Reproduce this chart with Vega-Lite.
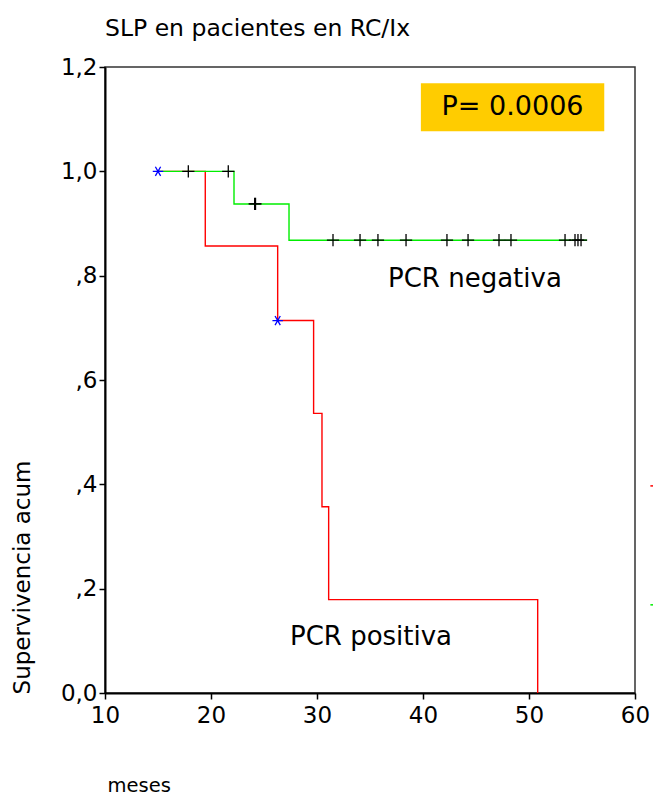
{
  "$schema": "https://vega.github.io/schema/vega-lite/v6.json",
  "width": 530,
  "height": 626,
  "autosize": {"type": "none"},
  "padding": {"left": 105, "top": 67, "right": 18, "bottom": 103},
  "background": "white",
  "config": {
    "font": "DejaVu Sans",
    "view": {"stroke": "#333333", "strokeWidth": 1.5},
    "axis": {
      "grid": false,
      "domainColor": "black",
      "domainWidth": 2,
      "tickColor": "black",
      "tickWidth": 1.5,
      "tickSize": 6,
      "labelFont": "DejaVu Sans",
      "labelFontSize": 23,
      "labelColor": "black",
      "labelFlush": false,
      "labelOverlap": false,
      "titleFont": "DejaVu Sans",
      "titleFontSize": 23,
      "titleFontWeight": "normal",
      "titleColor": "black"
    }
  },
  "title": {
    "text": "SLP en pacientes en RC/Ix",
    "anchor": "start",
    "frame": "group",
    "font": "DejaVu Sans",
    "fontSize": 23.5,
    "fontWeight": "normal",
    "color": "black",
    "offset": 16
  },
  "datasets": {
    "curves": [
      {"grupo": "PCR positiva", "meses": 15.0, "surv": 1.0},
      {"grupo": "PCR positiva", "meses": 19.46, "surv": 0.857},
      {"grupo": "PCR positiva", "meses": 26.29, "surv": 0.714},
      {"grupo": "PCR positiva", "meses": 29.68, "surv": 0.536},
      {"grupo": "PCR positiva", "meses": 30.47, "surv": 0.357},
      {"grupo": "PCR positiva", "meses": 31.1, "surv": 0.179},
      {"grupo": "PCR positiva", "meses": 50.82, "surv": 0.0},
      {"grupo": "PCR negativa", "meses": 15.0, "surv": 1.0},
      {"grupo": "PCR negativa", "meses": 22.17, "surv": 0.9375},
      {"grupo": "PCR negativa", "meses": 27.36, "surv": 0.868},
      {"grupo": "PCR negativa", "meses": 55.47, "surv": 0.868}
    ],
    "censor_neg": [
      {"meses": 17.86, "surv": 1.0},
      {"meses": 21.63, "surv": 1.0},
      {"meses": 24.12, "surv": 0.9375},
      {"meses": 24.2, "surv": 0.9375},
      {"meses": 31.51, "surv": 0.868},
      {"meses": 34.06, "surv": 0.868},
      {"meses": 35.75, "surv": 0.868},
      {"meses": 38.4, "surv": 0.868},
      {"meses": 42.26, "surv": 0.868},
      {"meses": 44.25, "surv": 0.868},
      {"meses": 47.17, "surv": 0.868},
      {"meses": 48.3, "surv": 0.868},
      {"meses": 53.4, "surv": 0.868},
      {"meses": 54.34, "surv": 0.868},
      {"meses": 54.62, "surv": 0.868},
      {"meses": 54.91, "surv": 0.868}
    ],
    "censor_pos": [
      {"meses": 15.0, "surv": 1.0},
      {"meses": 26.29, "surv": 0.714}
    ],
    "labels": [
      {"texto": "PCR negativa", "meses": 36.7, "surv": 0.794},
      {"texto": "PCR positiva", "meses": 27.45, "surv": 0.107}
    ],
    "pbox": [
      {"texto": "P= 0.0006", "x1": 39.8, "x2": 57.1, "y1": 1.077, "y2": 1.169, "xm": 48.45, "ym": 1.123}
    ],
    "legend_stub": [
      {"grupo": "PCR positiva", "x1": 61.45, "x2": 62.2, "surv": 0.397},
      {"grupo": "PCR negativa", "x1": 61.45, "x2": 62.2, "surv": 0.169}
    ]
  },
  "layer": [
    {
      "data": {"name": "pbox"},
      "mark": {"type": "rect", "color": "#FFCC00"},
      "encoding": {
        "x": {"field": "x1", "type": "quantitative", "scale": {"domain": [10, 60]}},
        "x2": {"field": "x2"},
        "y": {"field": "y1", "type": "quantitative", "scale": {"domain": [0, 1.2]}},
        "y2": {"field": "y2"}
      }
    },
    {
      "data": {"name": "pbox"},
      "mark": {"type": "text", "fontSize": 27, "font": "DejaVu Sans", "color": "black", "align": "center", "baseline": "middle"},
      "encoding": {
        "x": {"field": "xm", "type": "quantitative"},
        "y": {"field": "ym", "type": "quantitative"},
        "text": {"field": "texto"}
      }
    },
    {
      "data": {"name": "curves"},
      "mark": {"type": "line", "interpolate": "step-after", "strokeWidth": 1.4},
      "encoding": {
        "x": {
          "field": "meses", "type": "quantitative",
          "scale": {"domain": [10, 60], "nice": false, "zero": false},
          "axis": {
            "values": [10, 20, 30, 40, 50, 60],
            "title": "meses",
            "titleFontSize": 19.5,
            "titleAnchor": "start",
            "titleAlign": "left",
            "titleX": 2,
            "titleY": 92,
            "titleBaseline": "middle",
            "labelPadding": 5
          }
        },
        "y": {
          "field": "surv", "type": "quantitative",
          "scale": {"domain": [0, 1.2], "nice": false},
          "axis": {
            "values": [0, 0.2, 0.4, 0.6, 0.8, 1.0, 1.2],
            "labelExpr": "datum.value == 0 ? '0,0' : (datum.value >= 1 ? replace(format(datum.value, '.1f'), '.', ',') : replace(format(datum.value, '.1f'), '0.', ','))",
            "title": "Supervivencia acum",
            "titleAngle": -90,
            "titleAlign": "center",
            "titleBaseline": "middle",
            "titleX": -83,
            "titleY": 510,
            "labelPadding": 2
          }
        },
        "color": {
          "field": "grupo", "type": "nominal",
          "scale": {"domain": ["PCR positiva", "PCR negativa"], "range": ["#ff0000", "#00ee00"]},
          "legend": null
        },
        "order": {"field": "grupo", "sort": "descending"}
      }
    },
    {
      "data": {"name": "censor_neg"},
      "mark": {"type": "point", "shape": "M-1,0H1M0,-1V1", "size": 150, "filled": false, "stroke": "black", "strokeWidth": 1.3, "opacity": 1},
      "encoding": {
        "x": {"field": "meses", "type": "quantitative"},
        "y": {"field": "surv", "type": "quantitative"}
      }
    },
    {
      "data": {"name": "censor_pos"},
      "mark": {"type": "point", "shape": "M-1,0H1M-0.5,-0.866L0.5,0.866M-0.5,0.866L0.5,-0.866", "size": 110, "filled": false, "stroke": "#0000ff", "strokeWidth": 1.3, "opacity": 1},
      "encoding": {
        "x": {"field": "meses", "type": "quantitative"},
        "y": {"field": "surv", "type": "quantitative"}
      }
    },
    {
      "data": {"name": "labels"},
      "mark": {"type": "text", "fontSize": 26, "font": "DejaVu Sans", "color": "black", "align": "left", "baseline": "middle"},
      "encoding": {
        "x": {"field": "meses", "type": "quantitative"},
        "y": {"field": "surv", "type": "quantitative"},
        "text": {"field": "texto"}
      }
    },
    {
      "data": {"name": "legend_stub"},
      "mark": {"type": "rule", "strokeWidth": 1.5, "clip": false},
      "encoding": {
        "x": {"field": "x1", "type": "quantitative"},
        "x2": {"field": "x2"},
        "y": {"field": "surv", "type": "quantitative"},
        "color": {"field": "grupo", "type": "nominal", "legend": null}
      }
    }
  ]
}
